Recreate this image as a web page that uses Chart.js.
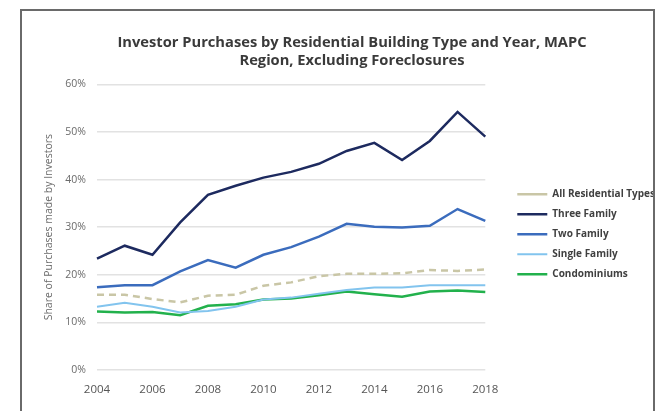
<!DOCTYPE html>
<html>
<head>
<meta charset="utf-8">
<script src="https://cdn.jsdelivr.net/npm/chart.js@4/dist/chart.umd.min.js"></script>
<style>
  html, body { margin: 0; padding: 0; background: #fff; }
  #frame {
    position: absolute; left: 20px; top: 9px;
    width: 631px; height: 420px;
    border: 2px solid #6a6a6a;
    overflow: hidden;
  }
  #chart { position: absolute; left: -22px; top: -11px; }
</style>
</head>
<body>
<div id="frame">
  <canvas id="chart" width="665" height="411"></canvas>
</div>
<script>
// 年（x軸）
const years = ["2004","2005","2006","2007","2008","2009","2010","2011","2012","2013","2014","2015","2016","2017","2018"];

// 各系列の値（%）
const allResidential = [15.8, 15.8, 14.9, 14.2, 15.6, 15.8, 17.7, 18.4, 19.7, 20.2, 20.2, 20.3, 21.0, 20.8, 21.1];
const threeFamily    = [23.4, 26.1, 24.2, 31.0, 36.8, 38.7, 40.4, 41.6, 43.3, 46.0, 47.7, 44.1, 48.1, 54.2, 49.0];
const twoFamily      = [17.4, 17.8, 17.8, 20.7, 23.1, 21.5, 24.2, 25.8, 28.0, 30.7, 30.1, 29.9, 30.3, 33.8, 31.3];
const singleFamily   = [13.3, 14.1, 13.3, 12.1, 12.4, 13.3, 14.8, 15.2, 16.0, 16.8, 17.3, 17.3, 17.8, 17.8, 17.8];
const condominiums   = [12.3, 12.1, 12.2, 11.5, 13.5, 13.8, 14.8, 15.0, 15.7, 16.5, 15.9, 15.4, 16.5, 16.7, 16.4];

const yTicks = [0, 10, 20, 30, 40, 50, 60];

const FONT = "'Open Sans', Lato, sans-serif";

function line(label, data, color, width, dash) {
  return {
    label: label,
    data: data,
    borderColor: color,
    backgroundColor: color,
    borderWidth: width,
    borderDash: dash || [],
    pointRadius: 0,
    tension: 0,
    fill: false
  };
}

const ctx = document.getElementById("chart").getContext("2d");
const chart = new Chart(ctx, {
  type: "line",
  data: {
    labels: years,
    datasets: [
      line("All Residential Types", allResidential, "#c9c6a6", 2.5, [7, 5]),
      line("Three Family", threeFamily, "#1d2a5f", 2.5),
      line("Two Family", twoFamily, "#3b6cbd", 2.5),
      line("Single Family", singleFamily, "#82c4ee", 2),
      line("Condominiums", condominiums, "#22b14c", 2.5)
    ]
  },
  options: {
    responsive: false,
    animation: false,
    layout: { padding: { left: 39, right: 0, top: 0, bottom: 0 } },
    scales: {
      x: {
        grid: { display: false },
        border: { display: false },
        ticks: {
          color: "#555",
          font: { family: FONT, size: 11.5 },
          padding: 5,
          maxRotation: 0,
          autoSkip: false,
          callback: function(v, i) { return i % 2 === 0 ? years[i] : ""; }
        },
        afterFit: s => { s.height = 41; }
      },
      y: {
        min: 0,
        max: 60,
        afterBuildTicks: s => { s.ticks = yTicks.map(v => ({ value: v })); },
        grid: { color: "#e2e2e2", lineWidth: 1.5, drawTicks: false },
        border: { display: false },
        ticks: {
          color: "#6b6b6b",
          font: { family: FONT, size: 10.5 },
          padding: 11,
          callback: v => v + "%"
        },
        title: {
          display: true,
          text: "Share of Purchases made by Investors",
          color: "#6b6b6b",
          font: { family: FONT, size: 10.5 },
          padding: { top: 4, bottom: 0 }
        },
        afterFit: s => { s.width = 58; }
      },
      gap: {
        type: "linear",
        position: "right",
        display: true,
        grid: { display: false },
        border: { display: false },
        ticks: { display: false },
        afterFit: s => { s.width = 22; }
      }
    },
    plugins: {
      title: {
        display: true,
        text: ["Investor Purchases by Residential Building Type and Year, MAPC", "Region, Excluding Foreclosures"],
        color: "#3a3a3a",
        font: { family: FONT, size: 14.7, weight: "bold", lineHeight: 1.2 },
        padding: { top: 34, bottom: 15 }
      },
      legend: {
        position: "right",
        align: "center",
        maxWidth: 200,
        title: {
          display: true,
          text: "",
          font: { size: 12, lineHeight: 1.2 },
          padding: { top: 0, bottom: 43 }
        },
        labels: {
          usePointStyle: true,
          pointStyle: "line",
          pointStyleWidth: 30,
          color: "#404040",
          font: { family: FONT, size: 10, weight: "bold" },
          padding: 10
        }
      },
      tooltip: { enabled: false }
    }
  }
});
</script>
</body>
</html>
